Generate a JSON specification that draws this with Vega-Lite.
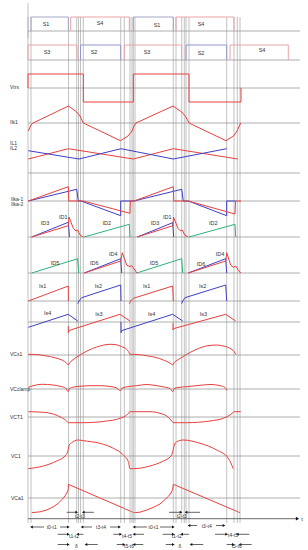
{
"$schema": "https://vega.github.io/schema/vega-lite/v6.json",
"padding": 0,
"autosize": {"type": "pad"},
"background": "white",
"spacing": 0,
"bounds": "flush",
"resolve": {"scale": {"x": "shared", "y": "independent", "color": "shared"}},
"config": {"view": {"stroke": null}, "axis": {"disable": true}, "concat": {"spacing": 0}},
"datasets": {
"inst": [{"t":0},{"t":3},{"t":40.5},{"t":48.7},{"t":50.5},{"t":52.5},{"t":55.3},{"t":92.7},{"t":96.3},{"t":102},{"t":104},{"t":105.3},{"t":107},{"t":145.3},{"t":148},{"t":153.7},{"t":156.3},{"t":158},{"t":161},{"t":198.7},{"t":206},{"t":209.3},{"t":212}],
"sig": [
{"p":"sw1","s":"S1","g":"a","t":3,"v":0},{"p":"sw1","s":"S1","g":"a","t":3,"v":14},{"p":"sw1","s":"S1","g":"a","t":40.3,"v":14},{"p":"sw1","s":"S1","g":"a","t":40.3,"v":0},
{"p":"sw1","s":"S4","g":"a","t":42.7,"v":0},{"p":"sw1","s":"S4","g":"a","t":42.7,"v":14},{"p":"sw1","s":"S4","g":"a","t":101.3,"v":14},{"p":"sw1","s":"S4","g":"a","t":101.3,"v":0},
{"p":"sw1","s":"S1","g":"b","t":105.3,"v":0},{"p":"sw1","s":"S1","g":"b","t":105.3,"v":14},{"p":"sw1","s":"S1","g":"b","t":145.3,"v":14},{"p":"sw1","s":"S1","g":"b","t":145.3,"v":0},
{"p":"sw1","s":"S4","g":"b","t":148,"v":0},{"p":"sw1","s":"S4","g":"b","t":148,"v":14},{"p":"sw1","s":"S4","g":"b","t":206,"v":14},{"p":"sw1","s":"S4","g":"b","t":206,"v":0},
{"p":"sw2","s":"S3","g":"a","t":0,"v":0},{"p":"sw2","s":"S3","g":"a","t":0,"v":15},{"p":"sw2","s":"S3","g":"a","t":49,"v":15},{"p":"sw2","s":"S3","g":"a","t":49,"v":0},
{"p":"sw2","s":"S2","g":"a","t":52.5,"v":0},{"p":"sw2","s":"S2","g":"a","t":52.5,"v":15},{"p":"sw2","s":"S2","g":"a","t":92.7,"v":15},{"p":"sw2","s":"S2","g":"a","t":92.7,"v":0},
{"p":"sw2","s":"S3","g":"b","t":96.3,"v":0},{"p":"sw2","s":"S3","g":"b","t":96.3,"v":15},{"p":"sw2","s":"S3","g":"b","t":153.7,"v":15},{"p":"sw2","s":"S3","g":"b","t":153.7,"v":0},
{"p":"sw2","s":"S2","g":"b","t":158,"v":0},{"p":"sw2","s":"S2","g":"b","t":158,"v":15},{"p":"sw2","s":"S2","g":"b","t":198.7,"v":15},{"p":"sw2","s":"S2","g":"b","t":198.7,"v":0},
{"p":"sw2","s":"S4","g":"c","t":202,"v":0},{"p":"sw2","s":"S4","g":"c","t":202,"v":15},{"p":"sw2","s":"S4","g":"c","t":260.3,"v":15},{"p":"sw2","s":"S4","g":"c","t":260.3,"v":0},
{"p":"vtrs","s":"Vtrs","g":"a","t":0,"v":0},{"p":"vtrs","s":"Vtrs","g":"a","t":0,"v":14},{"p":"vtrs","s":"Vtrs","g":"a","t":55.3,"v":14},{"p":"vtrs","s":"Vtrs","g":"a","t":55.3,"v":-14},{"p":"vtrs","s":"Vtrs","g":"a","t":105.3,"v":-14},{"p":"vtrs","s":"Vtrs","g":"a","t":105.3,"v":14},{"p":"vtrs","s":"Vtrs","g":"a","t":161,"v":14},{"p":"vtrs","s":"Vtrs","g":"a","t":161,"v":-14},{"p":"vtrs","s":"Vtrs","g":"a","t":213,"v":-14},{"p":"vtrs","s":"Vtrs","g":"a","t":213,"v":0},
{"p":"ilk1","s":"Ilk1","g":"a","t":0.3,"v":-8},{"p":"ilk1","s":"Ilk1","g":"a","t":3,"v":-2},{"p":"ilk1","s":"Ilk1","g":"a","t":5,"v":0},{"p":"ilk1","s":"Ilk1","g":"a","t":40.5,"v":17},{"p":"ilk1","s":"Ilk1","g":"a","t":48.7,"v":11},{"p":"ilk1","s":"Ilk1","g":"a","t":52,"v":7},{"p":"ilk1","s":"Ilk1","g":"a","t":55.3,"v":0},{"p":"ilk1","s":"Ilk1","g":"a","t":92.5,"v":-17.7},{"p":"ilk1","s":"Ilk1","g":"a","t":100,"v":-13},{"p":"ilk1","s":"Ilk1","g":"a","t":104,"v":-8},{"p":"ilk1","s":"Ilk1","g":"a","t":106,"v":-3},{"p":"ilk1","s":"Ilk1","g":"a","t":108,"v":0},{"p":"ilk1","s":"Ilk1","g":"a","t":145,"v":17},{"p":"ilk1","s":"Ilk1","g":"a","t":153.7,"v":11},{"p":"ilk1","s":"Ilk1","g":"a","t":157.7,"v":6.3},{"p":"ilk1","s":"Ilk1","g":"a","t":161,"v":0},{"p":"ilk1","s":"Ilk1","g":"a","t":198,"v":-17.7},{"p":"ilk1","s":"Ilk1","g":"a","t":205.5,"v":-13},{"p":"ilk1","s":"Ilk1","g":"a","t":209,"v":-8},{"p":"ilk1","s":"Ilk1","g":"a","t":212.7,"v":0},
{"p":"il","s":"IL1","g":"a","t":0.3,"v":14},{"p":"il","s":"IL1","g":"a","t":40.3,"v":24.3},{"p":"il","s":"IL1","g":"a","t":105.3,"v":14},{"p":"il","s":"IL1","g":"a","t":145.3,"v":24.3},{"p":"il","s":"IL1","g":"a","t":209.7,"v":14},
{"p":"il","s":"IL2","g":"a","t":0.3,"v":22.3},{"p":"il","s":"IL2","g":"a","t":51,"v":14},{"p":"il","s":"IL2","g":"a","t":93,"v":24.3},{"p":"il","s":"IL2","g":"a","t":145.3,"v":14},{"p":"il","s":"IL2","g":"a","t":198.7,"v":24.3},
{"p":"ilka","s":"Ilka-2","g":"a","t":0.3,"v":0},{"p":"ilka","s":"Ilka-2","g":"a","t":48.7,"v":11.7},{"p":"ilka","s":"Ilka-2","g":"a","t":50.3,"v":0},{"p":"ilka","s":"Ilka-2","g":"a","t":53,"v":0},{"p":"ilka","s":"Ilka-2","g":"a","t":92.7,"v":-14.7},{"p":"ilka","s":"Ilka-2","g":"a","t":92.7,"v":0},{"p":"ilka","s":"Ilka-2","g":"a","t":106,"v":0},{"p":"ilka","s":"Ilka-2","g":"a","t":153.7,"v":11.7},{"p":"ilka","s":"Ilka-2","g":"a","t":155.3,"v":0},{"p":"ilka","s":"Ilka-2","g":"a","t":160.3,"v":0},{"p":"ilka","s":"Ilka-2","g":"a","t":198.7,"v":-14.7},{"p":"ilka","s":"Ilka-2","g":"a","t":198.7,"v":0},{"p":"ilka","s":"Ilka-2","g":"a","t":207.5,"v":0},
{"p":"ilka","s":"Ilka-1","g":"a","t":0.3,"v":0},{"p":"ilka","s":"Ilka-1","g":"a","t":40.3,"v":14.3},{"p":"ilka","s":"Ilka-1","g":"a","t":40.8,"v":0},{"p":"ilka","s":"Ilka-1","g":"a","t":55.3,"v":0},{"p":"ilka","s":"Ilka-1","g":"a","t":102,"v":-12.3},{"p":"ilka","s":"Ilka-1","g":"a","t":102.3,"v":0},{"p":"ilka","s":"Ilka-1","g":"a","t":106,"v":0},{"p":"ilka","s":"Ilka-1","g":"a","t":145.3,"v":14.3},{"p":"ilka","s":"Ilka-1","g":"a","t":145.8,"v":0},{"p":"ilka","s":"Ilka-1","g":"a","t":160.3,"v":0},{"p":"ilka","s":"Ilka-1","g":"a","t":207,"v":-13},{"p":"ilka","s":"Ilka-1","g":"a","t":207.5,"v":0},{"p":"ilka","s":"Ilka-1","g":"a","t":213,"v":0},
{"p":"id1","s":"ID3","g":"a","t":3.7,"v":0},{"p":"id1","s":"ID3","g":"a","t":40.3,"v":14.7},{"p":"id1","s":"ID3","g":"a","t":41.5,"v":0},
{"p":"id1","s":"ID3","g":"b","t":109.3,"v":0},{"p":"id1","s":"ID3","g":"b","t":144.7,"v":14.3},{"p":"id1","s":"ID3","g":"b","t":145.7,"v":0},
{"p":"id1","s":"ID1","g":"a","t":3.7,"v":0},{"p":"id1","s":"ID1","g":"a","t":40.3,"v":11.3},{"p":"id1","s":"ID1","g":"a","t":41,"v":20},{"p":"id1","s":"ID1","g":"a","t":45.3,"v":8.7},{"p":"id1","s":"ID1","g":"a","t":48,"v":6},{"p":"id1","s":"ID1","g":"a","t":49.7,"v":7},{"p":"id1","s":"ID1","g":"a","t":52,"v":2},{"p":"id1","s":"ID1","g":"a","t":55.3,"v":0},
{"p":"id1","s":"ID1","g":"b","t":109.3,"v":0},{"p":"id1","s":"ID1","g":"b","t":145,"v":11.3},{"p":"id1","s":"ID1","g":"b","t":145.5,"v":20},{"p":"id1","s":"ID1","g":"b","t":150,"v":8.7},{"p":"id1","s":"ID1","g":"b","t":152.7,"v":6},{"p":"id1","s":"ID1","g":"b","t":154.3,"v":7},{"p":"id1","s":"ID1","g":"b","t":156.7,"v":2},{"p":"id1","s":"ID1","g":"b","t":160,"v":0},
{"p":"id1","s":"ID2","g":"a","t":56,"v":0},{"p":"id1","s":"ID2","g":"a","t":101.3,"v":12.7},{"p":"id1","s":"ID2","g":"a","t":102,"v":0},
{"p":"id1","s":"ID2","g":"b","t":161,"v":0},{"p":"id1","s":"ID2","g":"b","t":207,"v":12.7},{"p":"id1","s":"ID2","g":"b","t":207.7,"v":0},
{"p":"id2","s":"ID5","g":"a","t":3.7,"v":0},{"p":"id2","s":"ID5","g":"a","t":49.7,"v":14.3},{"p":"id2","s":"ID5","g":"a","t":50.7,"v":0},
{"p":"id2","s":"ID5","g":"b","t":108.7,"v":0},{"p":"id2","s":"ID5","g":"b","t":153.7,"v":14.3},{"p":"id2","s":"ID5","g":"b","t":154.7,"v":0},
{"p":"id2","s":"ID6","g":"a","t":56.3,"v":0},{"p":"id2","s":"ID6","g":"a","t":92.7,"v":14.3},{"p":"id2","s":"ID6","g":"a","t":93.7,"v":0},
{"p":"id2","s":"ID6","g":"b","t":160.3,"v":0},{"p":"id2","s":"ID6","g":"b","t":197.7,"v":14.3},{"p":"id2","s":"ID6","g":"b","t":198.7,"v":0},
{"p":"id2","s":"ID4","g":"a","t":56.3,"v":0},{"p":"id2","s":"ID4","g":"a","t":92.7,"v":12},{"p":"id2","s":"ID4","g":"a","t":94.3,"v":20.3},{"p":"id2","s":"ID4","g":"a","t":98.7,"v":8},{"p":"id2","s":"ID4","g":"a","t":102,"v":6.3},{"p":"id2","s":"ID4","g":"a","t":103.5,"v":7.5},{"p":"id2","s":"ID4","g":"a","t":107,"v":3},{"p":"id2","s":"ID4","g":"a","t":108.7,"v":0},
{"p":"id2","s":"ID4","g":"b","t":160.3,"v":0},{"p":"id2","s":"ID4","g":"b","t":197.7,"v":12},{"p":"id2","s":"ID4","g":"b","t":198.7,"v":20.3},{"p":"id2","s":"ID4","g":"b","t":202.7,"v":8},{"p":"id2","s":"ID4","g":"b","t":205.3,"v":5.7},{"p":"id2","s":"ID4","g":"b","t":207.7,"v":7},{"p":"id2","s":"ID4","g":"b","t":210.3,"v":3},{"p":"id2","s":"ID4","g":"b","t":212.7,"v":0},
{"p":"is12","s":"Is1","g":"a","t":0.3,"v":0},{"p":"is12","s":"Is1","g":"a","t":40.3,"v":15},{"p":"is12","s":"Is1","g":"a","t":40.3,"v":0},
{"p":"is12","s":"Is1","g":"b","t":101.3,"v":-2.7},{"p":"is12","s":"Is1","g":"b","t":102.7,"v":0},{"p":"is12","s":"Is1","g":"b","t":105.3,"v":2.7},{"p":"is12","s":"Is1","g":"b","t":144.7,"v":15},{"p":"is12","s":"Is1","g":"b","t":145.3,"v":0},
{"p":"is12","s":"Is2","g":"a","t":49.7,"v":-2.7},{"p":"is12","s":"Is2","g":"a","t":51,"v":0},{"p":"is12","s":"Is2","g":"a","t":53.7,"v":3.3},{"p":"is12","s":"Is2","g":"a","t":92.7,"v":16},{"p":"is12","s":"Is2","g":"a","t":93,"v":0},
{"p":"is12","s":"Is2","g":"b","t":153.7,"v":-2.7},{"p":"is12","s":"Is2","g":"b","t":154.7,"v":0},{"p":"is12","s":"Is2","g":"b","t":157,"v":3.3},{"p":"is12","s":"Is2","g":"b","t":197.7,"v":16},{"p":"is12","s":"Is2","g":"b","t":198.7,"v":0},
{"p":"is34","s":"Is4","g":"a","t":0.3,"v":-5.3},{"p":"is34","s":"Is4","g":"a","t":40.3,"v":7.7},{"p":"is34","s":"Is4","g":"a","t":49.7,"v":1},
{"p":"is34","s":"Is4","g":"b","t":93,"v":0},{"p":"is34","s":"Is4","g":"b","t":93,"v":-10.7},{"p":"is34","s":"Is4","g":"b","t":94,"v":-8.5},{"p":"is34","s":"Is4","g":"b","t":144.7,"v":7.7},{"p":"is34","s":"Is4","g":"b","t":154.7,"v":1},
{"p":"is34","s":"Is3","g":"a","t":40.3,"v":-4},{"p":"is34","s":"Is3","g":"a","t":40.3,"v":-10.7},{"p":"is34","s":"Is3","g":"a","t":41,"v":-8.5},{"p":"is34","s":"Is3","g":"a","t":92,"v":7.7},{"p":"is34","s":"Is3","g":"a","t":102,"v":1},
{"p":"is34","s":"Is3","g":"b","t":145,"v":-1},{"p":"is34","s":"Is3","g":"b","t":145,"v":-8},{"p":"is34","s":"Is3","g":"b","t":146,"v":-6.5},{"p":"is34","s":"Is3","g":"b","t":197.7,"v":7.7},{"p":"is34","s":"Is3","g":"b","t":207.7,"v":1},
{"p":"vcs1","s":"VCs1","g":"a","t":0.3,"v":0.7},{"p":"vcs1","s":"VCs1","g":"a","t":10,"v":0.3},{"p":"vcs1","s":"VCs1","g":"a","t":18.7,"v":-1},{"p":"vcs1","s":"VCs1","g":"a","t":26,"v":-2.5},{"p":"vcs1","s":"VCs1","g":"a","t":32,"v":-4.3},{"p":"vcs1","s":"VCs1","g":"a","t":36.5,"v":-6.5},{"p":"vcs1","s":"VCs1","g":"a","t":40.3,"v":-10},
{"p":"vcs1","s":"VCs1","g":"b","t":40.3,"v":-10},{"p":"vcs1","s":"VCs1","g":"b","t":42,"v":-7.5},{"p":"vcs1","s":"VCs1","g":"b","t":46,"v":-4},{"p":"vcs1","s":"VCs1","g":"b","t":52,"v":0},{"p":"vcs1","s":"VCs1","g":"b","t":60,"v":4.5},{"p":"vcs1","s":"VCs1","g":"b","t":68.7,"v":8},{"p":"vcs1","s":"VCs1","g":"b","t":76,"v":10},{"p":"vcs1","s":"VCs1","g":"b","t":82,"v":10.7},{"p":"vcs1","s":"VCs1","g":"b","t":88,"v":10.3},{"p":"vcs1","s":"VCs1","g":"b","t":93.7,"v":8.3},{"p":"vcs1","s":"VCs1","g":"b","t":98.7,"v":5.7},{"p":"vcs1","s":"VCs1","g":"b","t":102,"v":0.7},
{"p":"vcs1","s":"VCs1","g":"c","t":102,"v":0.7},{"p":"vcs1","s":"VCs1","g":"c","t":111,"v":0.3},{"p":"vcs1","s":"VCs1","g":"c","t":120.3,"v":-1},{"p":"vcs1","s":"VCs1","g":"c","t":128,"v":-2.5},{"p":"vcs1","s":"VCs1","g":"c","t":135.3,"v":-5},{"p":"vcs1","s":"VCs1","g":"c","t":140,"v":-7},{"p":"vcs1","s":"VCs1","g":"c","t":144.7,"v":-10},
{"p":"vcs1","s":"VCs1","g":"d","t":144.7,"v":-10},{"p":"vcs1","s":"VCs1","g":"d","t":146.5,"v":-7.5},{"p":"vcs1","s":"VCs1","g":"d","t":152,"v":-3.5},{"p":"vcs1","s":"VCs1","g":"d","t":158.7,"v":0.7},{"p":"vcs1","s":"VCs1","g":"d","t":166,"v":4.5},{"p":"vcs1","s":"VCs1","g":"d","t":175.3,"v":8.3},{"p":"vcs1","s":"VCs1","g":"d","t":183,"v":9.7},{"p":"vcs1","s":"VCs1","g":"d","t":188.7,"v":10},{"p":"vcs1","s":"VCs1","g":"d","t":195,"v":9},{"p":"vcs1","s":"VCs1","g":"d","t":202,"v":6.7},{"p":"vcs1","s":"VCs1","g":"d","t":206,"v":3.5},{"p":"vcs1","s":"VCs1","g":"d","t":207.7,"v":0.7},
{"p":"vclamp","s":"VCclamp","g":"a","t":0.3,"v":1.7},{"p":"vclamp","s":"VCclamp","g":"a","t":6,"v":3.5},{"p":"vclamp","s":"VCclamp","g":"a","t":13.7,"v":4.7},{"p":"vclamp","s":"VCclamp","g":"a","t":25.3,"v":4},{"p":"vclamp","s":"VCclamp","g":"a","t":33,"v":2.5},{"p":"vclamp","s":"VCclamp","g":"a","t":37.5,"v":1},{"p":"vclamp","s":"VCclamp","g":"a","t":40.3,"v":-2.7},{"p":"vclamp","s":"VCclamp","g":"a","t":41.5,"v":0.5},{"p":"vclamp","s":"VCclamp","g":"a","t":46,"v":2},{"p":"vclamp","s":"VCclamp","g":"a","t":52,"v":2.7},{"p":"vclamp","s":"VCclamp","g":"a","t":62,"v":3.3},{"p":"vclamp","s":"VCclamp","g":"a","t":72,"v":3.3},{"p":"vclamp","s":"VCclamp","g":"a","t":82,"v":2.5},{"p":"vclamp","s":"VCclamp","g":"a","t":88,"v":1.3},{"p":"vclamp","s":"VCclamp","g":"a","t":92.7,"v":-1.7},{"p":"vclamp","s":"VCclamp","g":"a","t":94,"v":0.8},{"p":"vclamp","s":"VCclamp","g":"a","t":98,"v":2},{"p":"vclamp","s":"VCclamp","g":"a","t":108.7,"v":3.3},{"p":"vclamp","s":"VCclamp","g":"a","t":118,"v":4.5},{"p":"vclamp","s":"VCclamp","g":"a","t":128,"v":3.5},{"p":"vclamp","s":"VCclamp","g":"a","t":136,"v":2},{"p":"vclamp","s":"VCclamp","g":"a","t":142,"v":0.5},{"p":"vclamp","s":"VCclamp","g":"a","t":144.7,"v":-2.7},{"p":"vclamp","s":"VCclamp","g":"a","t":146,"v":0.3},{"p":"vclamp","s":"VCclamp","g":"a","t":150,"v":1.5},{"p":"vclamp","s":"VCclamp","g":"a","t":158.7,"v":2.3},{"p":"vclamp","s":"VCclamp","g":"a","t":170,"v":3.5},{"p":"vclamp","s":"VCclamp","g":"a","t":183,"v":4.5},{"p":"vclamp","s":"VCclamp","g":"a","t":192,"v":3.3},{"p":"vclamp","s":"VCclamp","g":"a","t":197,"v":1.5},{"p":"vclamp","s":"VCclamp","g":"a","t":198.7,"v":-1.5},
{"p":"vct1","s":"VCT1","g":"a","t":0.3,"v":5.3},{"p":"vct1","s":"VCT1","g":"a","t":15.3,"v":4.7},{"p":"vct1","s":"VCT1","g":"a","t":25.3,"v":3},{"p":"vct1","s":"VCT1","g":"a","t":33.7,"v":-0.7},{"p":"vct1","s":"VCT1","g":"a","t":38.7,"v":-4},{"p":"vct1","s":"VCT1","g":"a","t":40.3,"v":-5.7},{"p":"vct1","s":"VCT1","g":"a","t":55.3,"v":-5.7},{"p":"vct1","s":"VCT1","g":"a","t":78.7,"v":-4},{"p":"vct1","s":"VCT1","g":"a","t":92,"v":-1.3},{"p":"vct1","s":"VCT1","g":"a","t":98.7,"v":2},{"p":"vct1","s":"VCT1","g":"a","t":101.3,"v":4.7},{"p":"vct1","s":"VCT1","g":"a","t":103,"v":5.3},{"p":"vct1","s":"VCT1","g":"a","t":122,"v":5.3},{"p":"vct1","s":"VCT1","g":"a","t":132,"v":3.7},{"p":"vct1","s":"VCT1","g":"a","t":140.3,"v":-0.3},{"p":"vct1","s":"VCT1","g":"a","t":143.7,"v":-4},{"p":"vct1","s":"VCT1","g":"a","t":145.3,"v":-5.7},{"p":"vct1","s":"VCT1","g":"a","t":158.7,"v":-5.7},{"p":"vct1","s":"VCT1","g":"a","t":182,"v":-4},{"p":"vct1","s":"VCT1","g":"a","t":195.3,"v":-1.3},{"p":"vct1","s":"VCT1","g":"a","t":202,"v":2},{"p":"vct1","s":"VCT1","g":"a","t":205.3,"v":4.7},{"p":"vct1","s":"VCT1","g":"a","t":206,"v":5.3},{"p":"vct1","s":"VCT1","g":"a","t":212.7,"v":5.3},
{"p":"vc1","s":"VC1","g":"a","t":0.3,"v":-12.7},{"p":"vc1","s":"VC1","g":"a","t":15.3,"v":-10},{"p":"vc1","s":"VC1","g":"a","t":28.7,"v":-5},{"p":"vc1","s":"VC1","g":"a","t":37,"v":0},{"p":"vc1","s":"VC1","g":"a","t":39.7,"v":4.3},{"p":"vc1","s":"VC1","g":"a","t":41.3,"v":11},{"p":"vc1","s":"VC1","g":"a","t":43.7,"v":13.3},{"p":"vc1","s":"VC1","g":"a","t":50.3,"v":16},{"p":"vc1","s":"VC1","g":"a","t":55.3,"v":15.3},{"p":"vc1","s":"VC1","g":"a","t":72,"v":12.7},{"p":"vc1","s":"VC1","g":"a","t":85.3,"v":7.7},{"p":"vc1","s":"VC1","g":"a","t":95.3,"v":1},{"p":"vc1","s":"VC1","g":"a","t":100.3,"v":-5.7},{"p":"vc1","s":"VC1","g":"a","t":102,"v":-12.7},{"p":"vc1","s":"VC1","g":"a","t":105.3,"v":-12.7},{"p":"vc1","s":"VC1","g":"a","t":122,"v":-10},{"p":"vc1","s":"VC1","g":"a","t":135.3,"v":-5},{"p":"vc1","s":"VC1","g":"a","t":143,"v":0},{"p":"vc1","s":"VC1","g":"a","t":144.7,"v":4.3},{"p":"vc1","s":"VC1","g":"a","t":146.3,"v":11},{"p":"vc1","s":"VC1","g":"a","t":148.7,"v":14.3},{"p":"vc1","s":"VC1","g":"a","t":155.3,"v":16},{"p":"vc1","s":"VC1","g":"a","t":172,"v":12.7},{"p":"vc1","s":"VC1","g":"a","t":188.7,"v":6},{"p":"vc1","s":"VC1","g":"a","t":200.3,"v":-2.3},{"p":"vc1","s":"VC1","g":"a","t":205.3,"v":-12.7},
{"p":"vca1","s":"VCa1","g":"a","t":3.7,"v":-14.7},{"p":"vca1","s":"VCa1","g":"a","t":12,"v":-13.8},{"p":"vca1","s":"VCa1","g":"a","t":18.7,"v":-12},{"p":"vca1","s":"VCa1","g":"a","t":25,"v":-9},{"p":"vca1","s":"VCa1","g":"a","t":30.3,"v":-5.3},{"p":"vca1","s":"VCa1","g":"a","t":34,"v":-1.5},{"p":"vca1","s":"VCa1","g":"a","t":37,"v":2},{"p":"vca1","s":"VCa1","g":"a","t":39,"v":5.5},{"p":"vca1","s":"VCa1","g":"a","t":40.3,"v":8.7},{"p":"vca1","s":"VCa1","g":"a","t":40.3,"v":13.7},{"p":"vca1","s":"VCa1","g":"a","t":106,"v":-14.7},{"p":"vca1","s":"VCa1","g":"a","t":112,"v":-14.2},{"p":"vca1","s":"VCa1","g":"a","t":118.7,"v":-12},{"p":"vca1","s":"VCa1","g":"a","t":125,"v":-9.5},{"p":"vca1","s":"VCa1","g":"a","t":132,"v":-6},{"p":"vca1","s":"VCa1","g":"a","t":136.5,"v":-2},{"p":"vca1","s":"VCa1","g":"a","t":140.3,"v":1.5},{"p":"vca1","s":"VCa1","g":"a","t":143,"v":5},{"p":"vca1","s":"VCa1","g":"a","t":144.7,"v":8.7},{"p":"vca1","s":"VCa1","g":"a","t":145.3,"v":13.7},{"p":"vca1","s":"VCa1","g":"a","t":212,"v":-14.7}
],
"lab": [
{"p":"vtrs","k":"n","txt":"Vtrs","t":-18,"v":1.3},
{"p":"ilk1","k":"n","txt":"Ilk1","t":-18,"v":0.7},
{"p":"il","k":"n","txt":"IL1","t":-18,"v":30},
{"p":"il","k":"n","txt":"IL2","t":-18,"v":25.5},
{"p":"ilka","k":"n","txt":"Ilka-1","t":-17,"v":2},
{"p":"ilka","k":"n","txt":"Ilka-2","t":-17,"v":-3.3},
{"p":"vcs1","k":"n","txt":"VCs1","t":-18,"v":0.7},
{"p":"vclamp","k":"n","txt":"VCclamp","t":-18,"v":0},
{"p":"vct1","k":"n","txt":"VCT1","t":-18,"v":0.3},
{"p":"vc1","k":"n","txt":"VC1","t":-17,"v":0},
{"p":"vca1","k":"n","txt":"VCa1","t":-17,"v":0},
{"p":"sw1","k":"i","txt":"S1","t":18,"v":7},
{"p":"sw1","k":"i","txt":"S4","t":72,"v":8},
{"p":"sw1","k":"i","txt":"S1","t":129,"v":6.5},
{"p":"sw1","k":"i","txt":"S4","t":173,"v":7},
{"p":"sw2","k":"i","txt":"S3","t":19,"v":8},
{"p":"sw2","k":"i","txt":"S2","t":66,"v":7.7},
{"p":"sw2","k":"i","txt":"S3","t":119,"v":8.3},
{"p":"sw2","k":"i","txt":"S2","t":173,"v":7},
{"p":"sw2","k":"i","txt":"S4","t":234,"v":10},
{"p":"id1","k":"i","txt":"ID3","t":17,"v":13.7},
{"p":"id1","k":"i","txt":"ID1","t":35.3,"v":20.3},
{"p":"id1","k":"i","txt":"ID2","t":78.7,"v":14.3},
{"p":"id1","k":"i","txt":"ID3","t":127,"v":14.3},
{"p":"id1","k":"i","txt":"ID1","t":139.3,"v":19.7},
{"p":"id1","k":"i","txt":"ID2","t":185.3,"v":14.3},
{"p":"id2","k":"i","txt":"ID5","t":27,"v":10.3},
{"p":"id2","k":"i","txt":"ID6","t":66.3,"v":9.7},
{"p":"id2","k":"i","txt":"ID4","t":85.3,"v":18.7},
{"p":"id2","k":"i","txt":"ID5","t":126,"v":10.3},
{"p":"id2","k":"i","txt":"ID6","t":173,"v":9},
{"p":"id2","k":"i","txt":"ID4","t":192,"v":18.7},
{"p":"is12","k":"i","txt":"Is1","t":14.7,"v":15.3},
{"p":"is12","k":"i","txt":"Is2","t":70.3,"v":15},
{"p":"is12","k":"i","txt":"Is1","t":118.7,"v":15},
{"p":"is12","k":"i","txt":"Is2","t":174.7,"v":15},
{"p":"is34","k":"i","txt":"Is4","t":19.7,"v":8.7},
{"p":"is34","k":"i","txt":"Is3","t":71,"v":7.7},
{"p":"is34","k":"i","txt":"Is4","t":123.7,"v":7.7},
{"p":"is34","k":"i","txt":"Is3","t":175.3,"v":7.7}
],
"arr": [
{"t0":38.7,"t1":48.7,"lv":37.7},{"t0":66,"t1":55.3,"lv":37.7},{"t0":141,"t1":153,"lv":37.7},{"t0":172,"t1":158,"lv":37.7},
{"t0":16,"t1":3.5,"lv":23},{"t0":32,"t1":40.3,"lv":23},{"t0":64,"t1":54,"lv":23},{"t0":82,"t1":91.5,"lv":23},{"t0":119,"t1":106,"lv":23},{"t0":132,"t1":145.3,"lv":23},{"t0":169,"t1":161,"lv":24.5},{"t0":188,"t1":196,"lv":24.5},
{"t0":29.7,"t1":40.3,"lv":15.7},{"t0":55.3,"t1":49.7,"lv":15.7},{"t0":85.3,"t1":92.7,"lv":15.7},{"t0":116,"t1":106,"lv":15.7},{"t0":134.7,"t1":145.3,"lv":15.7},{"t0":161,"t1":153.7,"lv":15.7},{"t0":187,"t1":198.7,"lv":15.7},{"t0":221.3,"t1":209.3,"lv":15.7},
{"t0":29.7,"t1":40.3,"lv":5.5},{"t0":69.7,"t1":58,"lv":5.5},{"t0":88.7,"t1":96,"lv":5.5},{"t0":115.3,"t1":106,"lv":5.5},{"t0":137.7,"t1":145.3,"lv":5.5},{"t0":175.3,"t1":163,"lv":5.5},{"t0":198.7,"t1":205.3,"lv":5.5},{"t0":223.7,"t1":212,"lv":5.5}
],
"atxt": [
{"txt":"t2-t3","t":52,"lv":34},{"txt":"t2-t3","t":153.7,"lv":34},
{"txt":"t0-t1","t":23.7,"lv":23},{"txt":"t3-t4","t":73,"lv":23},{"txt":"t0-t1","t":125.5,"lv":23},{"txt":"t3-t4","t":178.7,"lv":24.5},
{"txt":"t1-t2","t":46,"lv":14},{"txt":"t4-t5","t":99,"lv":14.5},{"txt":"t1-t2","t":148.7,"lv":14},{"txt":"t4-t5","t":205,"lv":15},
{"txt":"δ","t":48.3,"lv":4},{"txt":"t5-t6","t":101,"lv":4.5},{"txt":"δ","t":152,"lv":4},{"txt":"t5-t6","t":208.7,"lv":4.5}
]
},
"vconcat": [
{"width":308,"height":38,"layer":[
 {"data":{"name":"inst"},"mark":{"type":"rule","color":"#a8a8a8","strokeWidth":0.7},"encoding":{"x":{"field":"t","type":"quantitative","scale":{"domain":[-28,280],"nice":false,"zero":false},"axis":null},"y":{"datum":14,"type":"quantitative","scale":{"domain":[-7,31],"nice":false,"zero":false},"axis":null},"y2":{"datum":-7}}},
 {"data":{"values":[{}]},"mark":{"type":"rule","color":"#a8a8a8","strokeWidth":0.7},"encoding":{"x":{"datum":0,"type":"quantitative","axis":null},"y":{"datum":28,"type":"quantitative","axis":null},"y2":{"datum":-7}}},
 {"data":{"values":[{}]},"mark":{"type":"rule","color":"#999999","strokeWidth":0.8},"encoding":{"x":{"datum":0,"type":"quantitative","axis":null},"x2":{"datum":272},"y":{"datum":0,"type":"quantitative","axis":null}}},
 {"data":{"name":"sig"},"transform":[{"filter":"datum.p=='sw1'"}],"mark":{"type":"line","strokeWidth":1},"encoding":{"x":{"field":"t","type":"quantitative","axis":null},"y":{"field":"v","type":"quantitative","axis":null},"color":{"field":"s","type":"nominal","legend":null,"scale":{"domain":["S1","S2","S3","S4","Vtrs","Ilk1","IL1","IL2","Ilka-1","Ilka-2","ID1","ID2","ID3","ID4","ID5","ID6","Is1","Is2","Is3","Is4","VCs1","VCclamp","VCT1","VC1","VCa1"],"range":["#a4a7c8","#9397cc","#eaa3a5","#eaa3a5","#e8403f","#e8403f","#e8403f","#3f3fc4","#e8403f","#3f3fc4","#e8403f","#2fb27a","#3f3fc4","#e8403f","#2fb27a","#3f3fc4","#e8403f","#3f3fc4","#e8403f","#3f3fc4","#e8403f","#e8403f","#e8403f","#e8403f","#e8403f"]}},"detail":{"field":"g"},"order":{"value":null}}},
 {"data":{"name":"lab"},"transform":[{"filter":"datum.p=='sw1'"}],"mark":{"type":"text","align":"center","baseline":"middle","fontSize":5.5,"font":"Liberation Sans","color":"#333333"},"encoding":{"x":{"field":"t","type":"quantitative","axis":null},"y":{"field":"v","type":"quantitative","axis":null},"text":{"field":"txt"}}}
]},
{"width":308,"height":28,"layer":[
 {"data":{"name":"inst"},"mark":{"type":"rule","color":"#a8a8a8","strokeWidth":0.7},"encoding":{"x":{"field":"t","type":"quantitative","scale":{"domain":[-28,280],"nice":false,"zero":false},"axis":null}}},
 {"data":{"values":[{}]},"mark":{"type":"rule","color":"#999999","strokeWidth":0.8},"encoding":{"x":{"datum":0,"type":"quantitative","axis":null},"x2":{"datum":272},"y":{"datum":0,"type":"quantitative","scale":{"domain":[-6,22],"nice":false,"zero":false},"axis":null}}},
 {"data":{"name":"sig"},"transform":[{"filter":"datum.p=='sw2'"}],"mark":{"type":"line","strokeWidth":1},"encoding":{"x":{"field":"t","type":"quantitative","axis":null},"y":{"field":"v","type":"quantitative","axis":null},"color":{"field":"s","type":"nominal","legend":null},"detail":{"field":"g"},"order":{"value":null}}},
 {"data":{"name":"lab"},"transform":[{"filter":"datum.p=='sw2'"}],"mark":{"type":"text","align":"center","baseline":"middle","fontSize":5.5,"font":"Liberation Sans","color":"#333333"},"encoding":{"x":{"field":"t","type":"quantitative","axis":null},"y":{"field":"v","type":"quantitative","axis":null},"text":{"field":"txt"}}}
]},
{"width":308,"height":37,"layer":[
 {"data":{"name":"inst"},"mark":{"type":"rule","color":"#a8a8a8","strokeWidth":0.7},"encoding":{"x":{"field":"t","type":"quantitative","scale":{"domain":[-28,280],"nice":false,"zero":false},"axis":null}}},
 {"data":{"values":[{}]},"mark":{"type":"rule","color":"#999999","strokeWidth":0.8},"encoding":{"x":{"datum":0,"type":"quantitative","axis":null},"x2":{"datum":272},"y":{"datum":0,"type":"quantitative","scale":{"domain":[-15,22],"nice":false,"zero":false},"axis":null}}},
 {"data":{"name":"sig"},"transform":[{"filter":"datum.p=='vtrs'"}],"mark":{"type":"line","strokeWidth":1},"encoding":{"x":{"field":"t","type":"quantitative","axis":null},"y":{"field":"v","type":"quantitative","axis":null},"color":{"field":"s","type":"nominal","legend":null},"detail":{"field":"g"},"order":{"value":null}}},
 {"data":{"name":"lab"},"transform":[{"filter":"datum.p=='vtrs'"}],"mark":{"type":"text","align":"left","baseline":"middle","fontSize":5,"font":"Liberation Sans","color":"#333333"},"encoding":{"x":{"field":"t","type":"quantitative","axis":null},"y":{"field":"v","type":"quantitative","axis":null},"text":{"field":"txt"}}}
]},
{"width":308,"height":40,"layer":[
 {"data":{"name":"inst"},"mark":{"type":"rule","color":"#a8a8a8","strokeWidth":0.7},"encoding":{"x":{"field":"t","type":"quantitative","scale":{"domain":[-28,280],"nice":false,"zero":false},"axis":null}}},
 {"data":{"values":[{}]},"mark":{"type":"rule","color":"#999999","strokeWidth":0.8},"encoding":{"x":{"datum":0,"type":"quantitative","axis":null},"x2":{"datum":272},"y":{"datum":0,"type":"quantitative","scale":{"domain":[-20,20],"nice":false,"zero":false},"axis":null}}},
 {"data":{"name":"sig"},"transform":[{"filter":"datum.p=='ilk1'"}],"mark":{"type":"line","strokeWidth":1},"encoding":{"x":{"field":"t","type":"quantitative","axis":null},"y":{"field":"v","type":"quantitative","axis":null},"color":{"field":"s","type":"nominal","legend":null},"detail":{"field":"g"},"order":{"value":null}}},
 {"data":{"name":"lab"},"transform":[{"filter":"datum.p=='ilk1'"}],"mark":{"type":"text","align":"left","baseline":"middle","fontSize":5,"font":"Liberation Sans","color":"#333333"},"encoding":{"x":{"field":"t","type":"quantitative","axis":null},"y":{"field":"v","type":"quantitative","axis":null},"text":{"field":"txt"}}}
]},
{"width":308,"height":35,"layer":[
 {"data":{"name":"inst"},"mark":{"type":"rule","color":"#a8a8a8","strokeWidth":0.7},"encoding":{"x":{"field":"t","type":"quantitative","scale":{"domain":[-28,280],"nice":false,"zero":false},"axis":null}}},
 {"data":{"values":[{}]},"mark":{"type":"rule","color":"#999999","strokeWidth":0.8},"encoding":{"x":{"datum":0,"type":"quantitative","axis":null},"x2":{"datum":272},"y":{"datum":0,"type":"quantitative","scale":{"domain":[-5,30],"nice":false,"zero":false},"axis":null}}},
 {"data":{"name":"sig"},"transform":[{"filter":"datum.p=='il'"}],"mark":{"type":"line","strokeWidth":1},"encoding":{"x":{"field":"t","type":"quantitative","axis":null},"y":{"field":"v","type":"quantitative","axis":null},"color":{"field":"s","type":"nominal","legend":null},"detail":{"field":"g"},"order":{"value":null}}},
 {"data":{"name":"lab"},"transform":[{"filter":"datum.p=='il'"}],"mark":{"type":"text","align":"left","baseline":"middle","fontSize":5,"font":"Liberation Sans","color":"#333333"},"encoding":{"x":{"field":"t","type":"quantitative","axis":null},"y":{"field":"v","type":"quantitative","axis":null},"text":{"field":"txt"}}}
]},
{"width":308,"height":41,"layer":[
 {"data":{"name":"inst"},"mark":{"type":"rule","color":"#a8a8a8","strokeWidth":0.7},"encoding":{"x":{"field":"t","type":"quantitative","scale":{"domain":[-28,280],"nice":false,"zero":false},"axis":null}}},
 {"data":{"values":[{}]},"mark":{"type":"rule","color":"#999999","strokeWidth":0.8},"encoding":{"x":{"datum":0,"type":"quantitative","axis":null},"x2":{"datum":272},"y":{"datum":0,"type":"quantitative","scale":{"domain":[-18,23],"nice":false,"zero":false},"axis":null}}},
 {"data":{"name":"sig"},"transform":[{"filter":"datum.p=='ilka'"}],"mark":{"type":"line","strokeWidth":1},"encoding":{"x":{"field":"t","type":"quantitative","axis":null},"y":{"field":"v","type":"quantitative","axis":null},"color":{"field":"s","type":"nominal","legend":null},"detail":{"field":"g"},"order":{"value":null}}},
 {"data":{"name":"lab"},"transform":[{"filter":"datum.p=='ilka'"}],"mark":{"type":"text","align":"left","baseline":"middle","fontSize":5,"font":"Liberation Sans","color":"#333333"},"encoding":{"x":{"field":"t","type":"quantitative","axis":null},"y":{"field":"v","type":"quantitative","axis":null},"text":{"field":"txt"}}}
]},
{"width":308,"height":26,"layer":[
 {"data":{"name":"inst"},"mark":{"type":"rule","color":"#a8a8a8","strokeWidth":0.7},"encoding":{"x":{"field":"t","type":"quantitative","scale":{"domain":[-28,280],"nice":false,"zero":false},"axis":null}}},
 {"data":{"values":[{}]},"mark":{"type":"rule","color":"#999999","strokeWidth":0.8},"encoding":{"x":{"datum":0,"type":"quantitative","axis":null},"x2":{"datum":272},"y":{"datum":0,"type":"quantitative","scale":{"domain":[-8,18],"nice":false,"zero":false},"axis":null}}},
 {"data":{"name":"sig"},"transform":[{"filter":"datum.p=='id1'"}],"mark":{"type":"line","strokeWidth":1},"encoding":{"x":{"field":"t","type":"quantitative","axis":null},"y":{"field":"v","type":"quantitative","axis":null},"color":{"field":"s","type":"nominal","legend":null},"detail":{"field":"g"},"order":{"value":null}}},
 {"data":{"name":"lab"},"transform":[{"filter":"datum.p=='id1'"}],"mark":{"type":"text","align":"center","baseline":"middle","fontSize":5.5,"font":"Liberation Sans","color":"#333333"},"encoding":{"x":{"field":"t","type":"quantitative","axis":null},"y":{"field":"v","type":"quantitative","axis":null},"text":{"field":"txt"}}}
]},
{"width":308,"height":35,"layer":[
 {"data":{"name":"inst"},"mark":{"type":"rule","color":"#a8a8a8","strokeWidth":0.7},"encoding":{"x":{"field":"t","type":"quantitative","scale":{"domain":[-28,280],"nice":false,"zero":false},"axis":null}}},
 {"data":{"values":[{}]},"mark":{"type":"rule","color":"#999999","strokeWidth":0.8},"encoding":{"x":{"datum":0,"type":"quantitative","axis":null},"x2":{"datum":272},"y":{"datum":0,"type":"quantitative","scale":{"domain":[-7,28],"nice":false,"zero":false},"axis":null}}},
 {"data":{"name":"sig"},"transform":[{"filter":"datum.p=='id2'"}],"mark":{"type":"line","strokeWidth":1},"encoding":{"x":{"field":"t","type":"quantitative","axis":null},"y":{"field":"v","type":"quantitative","axis":null},"color":{"field":"s","type":"nominal","legend":null},"detail":{"field":"g"},"order":{"value":null}}},
 {"data":{"name":"lab"},"transform":[{"filter":"datum.p=='id2'"}],"mark":{"type":"text","align":"center","baseline":"middle","fontSize":5.5,"font":"Liberation Sans","color":"#333333"},"encoding":{"x":{"field":"t","type":"quantitative","axis":null},"y":{"field":"v","type":"quantitative","axis":null},"text":{"field":"txt"}}}
]},
{"width":308,"height":30,"layer":[
 {"data":{"name":"inst"},"mark":{"type":"rule","color":"#a8a8a8","strokeWidth":0.7},"encoding":{"x":{"field":"t","type":"quantitative","scale":{"domain":[-28,280],"nice":false,"zero":false},"axis":null}}},
 {"data":{"values":[{}]},"mark":{"type":"rule","color":"#999999","strokeWidth":0.8},"encoding":{"x":{"datum":0,"type":"quantitative","axis":null},"x2":{"datum":272},"y":{"datum":0,"type":"quantitative","scale":{"domain":[-9,21],"nice":false,"zero":false},"axis":null}}},
 {"data":{"name":"sig"},"transform":[{"filter":"datum.p=='is12'"}],"mark":{"type":"line","strokeWidth":1},"encoding":{"x":{"field":"t","type":"quantitative","axis":null},"y":{"field":"v","type":"quantitative","axis":null},"color":{"field":"s","type":"nominal","legend":null},"detail":{"field":"g"},"order":{"value":null}}},
 {"data":{"name":"lab"},"transform":[{"filter":"datum.p=='is12'"}],"mark":{"type":"text","align":"center","baseline":"middle","fontSize":5.5,"font":"Liberation Sans","color":"#333333"},"encoding":{"x":{"field":"t","type":"quantitative","axis":null},"y":{"field":"v","type":"quantitative","axis":null},"text":{"field":"txt"}}}
]},
{"width":308,"height":28,"layer":[
 {"data":{"name":"inst"},"mark":{"type":"rule","color":"#a8a8a8","strokeWidth":0.7},"encoding":{"x":{"field":"t","type":"quantitative","scale":{"domain":[-28,280],"nice":false,"zero":false},"axis":null}}},
 {"data":{"values":[{}]},"mark":{"type":"rule","color":"#999999","strokeWidth":0.8},"encoding":{"x":{"datum":0,"type":"quantitative","axis":null},"x2":{"datum":272},"y":{"datum":0,"type":"quantitative","scale":{"domain":[-16,12],"nice":false,"zero":false},"axis":null}}},
 {"data":{"name":"sig"},"transform":[{"filter":"datum.p=='is34'"}],"mark":{"type":"line","strokeWidth":1},"encoding":{"x":{"field":"t","type":"quantitative","axis":null},"y":{"field":"v","type":"quantitative","axis":null},"color":{"field":"s","type":"nominal","legend":null},"detail":{"field":"g"},"order":{"value":null}}},
 {"data":{"name":"lab"},"transform":[{"filter":"datum.p=='is34'"}],"mark":{"type":"text","align":"center","baseline":"middle","fontSize":5.5,"font":"Liberation Sans","color":"#333333"},"encoding":{"x":{"field":"t","type":"quantitative","axis":null},"y":{"field":"v","type":"quantitative","axis":null},"text":{"field":"txt"}}}
]},
{"width":308,"height":34,"layer":[
 {"data":{"name":"inst"},"mark":{"type":"rule","color":"#a8a8a8","strokeWidth":0.7},"encoding":{"x":{"field":"t","type":"quantitative","scale":{"domain":[-28,280],"nice":false,"zero":false},"axis":null}}},
 {"data":{"values":[{}]},"mark":{"type":"rule","color":"#999999","strokeWidth":0.8},"encoding":{"x":{"datum":0,"type":"quantitative","axis":null},"x2":{"datum":272},"y":{"datum":0,"type":"quantitative","scale":{"domain":[-17,17],"nice":false,"zero":false},"axis":null}}},
 {"data":{"name":"sig"},"transform":[{"filter":"datum.p=='vcs1'"}],"mark":{"type":"line","strokeWidth":1,"interpolate":"monotone"},"encoding":{"x":{"field":"t","type":"quantitative","axis":null},"y":{"field":"v","type":"quantitative","axis":null},"color":{"field":"s","type":"nominal","legend":null},"detail":{"field":"g"},"order":{"value":null}}},
 {"data":{"name":"lab"},"transform":[{"filter":"datum.p=='vcs1'"}],"mark":{"type":"text","align":"left","baseline":"middle","fontSize":5,"font":"Liberation Sans","color":"#333333"},"encoding":{"x":{"field":"t","type":"quantitative","axis":null},"y":{"field":"v","type":"quantitative","axis":null},"text":{"field":"txt"}}}
]},
{"width":308,"height":26,"layer":[
 {"data":{"name":"inst"},"mark":{"type":"rule","color":"#a8a8a8","strokeWidth":0.7},"encoding":{"x":{"field":"t","type":"quantitative","scale":{"domain":[-28,280],"nice":false,"zero":false},"axis":null}}},
 {"data":{"values":[{}]},"mark":{"type":"rule","color":"#999999","strokeWidth":0.8},"encoding":{"x":{"datum":0,"type":"quantitative","axis":null},"x2":{"datum":272},"y":{"datum":0,"type":"quantitative","scale":{"domain":[-9,17],"nice":false,"zero":false},"axis":null}}},
 {"data":{"name":"sig"},"transform":[{"filter":"datum.p=='vclamp'"}],"mark":{"type":"line","strokeWidth":1,"interpolate":"monotone"},"encoding":{"x":{"field":"t","type":"quantitative","axis":null},"y":{"field":"v","type":"quantitative","axis":null},"color":{"field":"s","type":"nominal","legend":null},"detail":{"field":"g"},"order":{"value":null}}},
 {"data":{"name":"lab"},"transform":[{"filter":"datum.p=='vclamp'"}],"mark":{"type":"text","align":"left","baseline":"middle","fontSize":5,"font":"Liberation Sans","color":"#333333"},"encoding":{"x":{"field":"t","type":"quantitative","axis":null},"y":{"field":"v","type":"quantitative","axis":null},"text":{"field":"txt"}}}
]},
{"width":308,"height":34,"layer":[
 {"data":{"name":"inst"},"mark":{"type":"rule","color":"#a8a8a8","strokeWidth":0.7},"encoding":{"x":{"field":"t","type":"quantitative","scale":{"domain":[-28,280],"nice":false,"zero":false},"axis":null}}},
 {"data":{"values":[{}]},"mark":{"type":"rule","color":"#999999","strokeWidth":0.8},"encoding":{"x":{"datum":0,"type":"quantitative","axis":null},"x2":{"datum":272},"y":{"datum":0,"type":"quantitative","scale":{"domain":[-15,19],"nice":false,"zero":false},"axis":null}}},
 {"data":{"name":"sig"},"transform":[{"filter":"datum.p=='vct1'"}],"mark":{"type":"line","strokeWidth":1,"interpolate":"monotone"},"encoding":{"x":{"field":"t","type":"quantitative","axis":null},"y":{"field":"v","type":"quantitative","axis":null},"color":{"field":"s","type":"nominal","legend":null},"detail":{"field":"g"},"order":{"value":null}}},
 {"data":{"name":"lab"},"transform":[{"filter":"datum.p=='vct1'"}],"mark":{"type":"text","align":"left","baseline":"middle","fontSize":5,"font":"Liberation Sans","color":"#333333"},"encoding":{"x":{"field":"t","type":"quantitative","axis":null},"y":{"field":"v","type":"quantitative","axis":null},"text":{"field":"txt"}}}
]},
{"width":308,"height":43,"layer":[
 {"data":{"name":"inst"},"mark":{"type":"rule","color":"#a8a8a8","strokeWidth":0.7},"encoding":{"x":{"field":"t","type":"quantitative","scale":{"domain":[-28,280],"nice":false,"zero":false},"axis":null}}},
 {"data":{"values":[{}]},"mark":{"type":"rule","color":"#999999","strokeWidth":0.8},"encoding":{"x":{"datum":0,"type":"quantitative","axis":null},"x2":{"datum":272},"y":{"datum":0,"type":"quantitative","scale":{"domain":[-19,24],"nice":false,"zero":false},"axis":null}}},
 {"data":{"name":"sig"},"transform":[{"filter":"datum.p=='vc1'"}],"mark":{"type":"line","strokeWidth":1,"interpolate":"monotone"},"encoding":{"x":{"field":"t","type":"quantitative","axis":null},"y":{"field":"v","type":"quantitative","axis":null},"color":{"field":"s","type":"nominal","legend":null},"detail":{"field":"g"},"order":{"value":null}}},
 {"data":{"name":"lab"},"transform":[{"filter":"datum.p=='vc1'"}],"mark":{"type":"text","align":"left","baseline":"middle","fontSize":5,"font":"Liberation Sans","color":"#333333"},"encoding":{"x":{"field":"t","type":"quantitative","axis":null},"y":{"field":"v","type":"quantitative","axis":null},"text":{"field":"txt"}}}
]},
{"width":308,"height":33,"layer":[
 {"data":{"name":"inst"},"mark":{"type":"rule","color":"#a8a8a8","strokeWidth":0.7},"encoding":{"x":{"field":"t","type":"quantitative","scale":{"domain":[-28,280],"nice":false,"zero":false},"axis":null}}},
 {"data":{"values":[{}]},"mark":{"type":"rule","color":"#999999","strokeWidth":0.8},"encoding":{"x":{"datum":0,"type":"quantitative","axis":null},"x2":{"datum":272},"y":{"datum":0,"type":"quantitative","scale":{"domain":[-10,23],"nice":false,"zero":false},"axis":null}}},
 {"data":{"name":"sig"},"transform":[{"filter":"datum.p=='vca1'"}],"mark":{"type":"line","strokeWidth":1},"encoding":{"x":{"field":"t","type":"quantitative","axis":null},"y":{"field":"v","type":"quantitative","axis":null},"color":{"field":"s","type":"nominal","legend":null},"detail":{"field":"g"},"order":{"value":null}}},
 {"data":{"name":"lab"},"transform":[{"filter":"datum.p=='vca1'"}],"mark":{"type":"text","align":"left","baseline":"middle","fontSize":5,"font":"Liberation Sans","color":"#333333"},"encoding":{"x":{"field":"t","type":"quantitative","axis":null},"y":{"field":"v","type":"quantitative","axis":null},"text":{"field":"txt"}}}
]},
{"width":308,"height":42,"layer":[
 {"data":{"name":"inst"},"mark":{"type":"rule","color":"#a8a8a8","strokeWidth":0.7},"encoding":{"x":{"field":"t","type":"quantitative","scale":{"domain":[-28,280],"nice":false,"zero":false},"axis":null},"y":{"datum":42,"type":"quantitative","scale":{"domain":[0,42],"nice":false,"zero":false},"axis":null},"y2":{"datum":27}}},
 {"data":{"values":[{}]},"mark":{"type":"rule","color":"#444444","strokeWidth":0.8},"encoding":{"x":{"datum":0,"type":"quantitative","axis":null},"x2":{"datum":268},"y":{"datum":31.3,"type":"quantitative","axis":null}}},
 {"data":{"values":[{}]},"mark":{"type":"point","shape":"triangle-right","filled":true,"size":14,"color":"#111111","opacity":1},"encoding":{"x":{"datum":269.5,"type":"quantitative","axis":null},"y":{"datum":31.3,"type":"quantitative","axis":null}}},
 {"data":{"values":[{}]},"mark":{"type":"text","text":"t","align":"center","baseline":"middle","fontSize":5.5,"font":"Liberation Sans","color":"#333333"},"encoding":{"x":{"datum":274,"type":"quantitative","axis":null},"y":{"datum":31.3,"type":"quantitative","axis":null}}},
 {"data":{"name":"arr"},"mark":{"type":"rule","color":"#222222","strokeWidth":0.7},"encoding":{"x":{"field":"t0","type":"quantitative","axis":null},"x2":{"field":"t1"},"y":{"field":"lv","type":"quantitative","axis":null}}},
 {"data":{"name":"arr"},"mark":{"type":"point","filled":true,"size":9,"color":"#111111","opacity":1},"encoding":{"x":{"field":"t1","type":"quantitative","axis":null},"y":{"field":"lv","type":"quantitative","axis":null},"shape":{"condition":{"test":"datum.t1 > datum.t0","value":"triangle-right"},"value":"triangle-left"}}},
 {"data":{"name":"atxt"},"mark":{"type":"text","align":"center","baseline":"middle","fontSize":5,"font":"Liberation Sans","color":"#333333"},"encoding":{"x":{"field":"t","type":"quantitative","axis":null},"y":{"field":"lv","type":"quantitative","axis":null},"text":{"field":"txt"}}}
]}
]
}
